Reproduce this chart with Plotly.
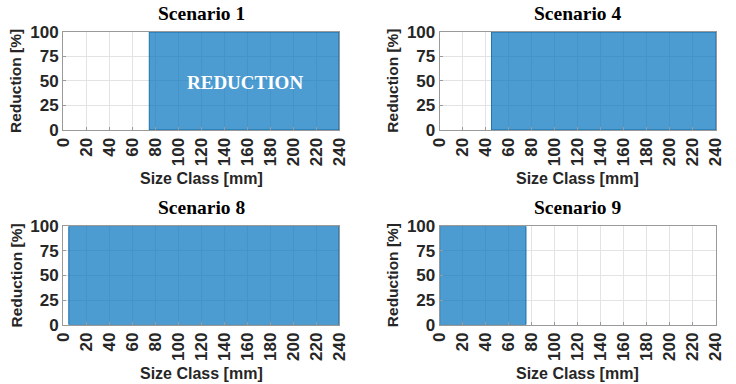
import plotly.graph_objects as go

scenario_names = ["Scenario 1", "Scenario 4", "Scenario 8", "Scenario 9"]
reduction_start = [75, 45, 5, 0]
reduction_end = [240, 240, 240, 75]
reduction_pct = [100, 100, 100, 100]
x_ticks = list(range(0, 241, 20))
y_ticks = [0, 25, 50, 75, 100]

W, H = 736, 384
x_domains = [[0.0856, 0.4606], [0.5974, 0.9728], [0.0856, 0.4606], [0.5974, 0.9728]]
y_domains = [[0.6615, 0.9167], [0.6615, 0.9167], [0.1544, 0.4107], [0.1544, 0.4107]]

fig = go.Figure()
tick_font = dict(family="Liberation Sans", size=17, color="#262626", weight="bold")
layout = {}
annotations = []
for i, name in enumerate(scenario_names):
    ax = "" if i == 0 else str(i + 1)
    s, e = reduction_start[i], reduction_end[i]
    fig.add_trace(go.Bar(
        x=[(s + e) / 2], y=[reduction_pct[i]], width=[e - s], base=0,
        marker=dict(color="rgba(0,114,189,0.7)", line=dict(color="rgba(0,95,160,0.8)", width=1)),
        xaxis="x" + ax, yaxis="y" + ax, showlegend=False, hoverinfo="skip"))
    layout["xaxis" + ax] = dict(
        domain=x_domains[i], range=[0, 240], tickvals=x_ticks, ticktext=[str(v) for v in x_ticks],
        tickangle=-90, tickfont=tick_font, showgrid=True, gridcolor="#e3e3e3", gridwidth=1,
        showline=True, linecolor="#9a9a9a", linewidth=1, mirror=True, ticks="inside", ticklen=3,
        tickcolor="#9a9a9a", zeroline=False, anchor="y" + ax, fixedrange=True, automargin=False)
    layout["yaxis" + ax] = dict(
        domain=y_domains[i], range=[0, 100], tickvals=y_ticks, tickfont=tick_font,
        showgrid=True, gridcolor="#e3e3e3", gridwidth=1,
        showline=True, linecolor="#9a9a9a", linewidth=1, mirror=True, ticks="inside", ticklen=3,
        tickcolor="#9a9a9a", zeroline=False, anchor="x" + ax, fixedrange=True, automargin=False)
    xc = (x_domains[i][0] + x_domains[i][1]) / 2
    ytop = y_domains[i][1]
    ybot = y_domains[i][0]
    annotations.append(dict(text="<b>%s</b>" % name, x=xc, y=ytop + 18.5 / H, xref="paper", yref="paper",
                            xanchor="center", yanchor="middle", showarrow=False,
                            font=dict(family="Liberation Serif", size=19.5, color="black")))
    annotations.append(dict(text="<b>Size Class [mm]</b>", x=xc, y=ybot - 48.5 / H, xref="paper", yref="paper",
                            xanchor="center", yanchor="middle", showarrow=False,
                            font=dict(family="Liberation Sans", size=16, color="#262626")))
    annotations.append(dict(text="<b>Reduction [%]</b>", x=x_domains[i][0] - 47 / W, y=(ybot + ytop) / 2,
                            xref="paper", yref="paper", textangle=-90,
                            xanchor="center", yanchor="middle", showarrow=False,
                            font=dict(family="Liberation Sans", size=15.5, color="#262626")))

annotations.append(dict(text="<b>REDUCTION</b>", x=158, y=48, xref="x", yref="y", showarrow=False,
                        xanchor="center", yanchor="middle",
                        font=dict(family="Liberation Serif", size=19, color="white")))

fig.update_layout(**layout)
fig.update_layout(width=W, height=H, margin=dict(l=0, r=0, t=0, b=0),
                  paper_bgcolor="white", plot_bgcolor="white", annotations=annotations,
                  barmode="overlay", hovermode=False)
fig.write_html("out.html", config={"displayModeBar": False, "staticPlot": True},
               post_script="document.body.style.margin='0px';")
